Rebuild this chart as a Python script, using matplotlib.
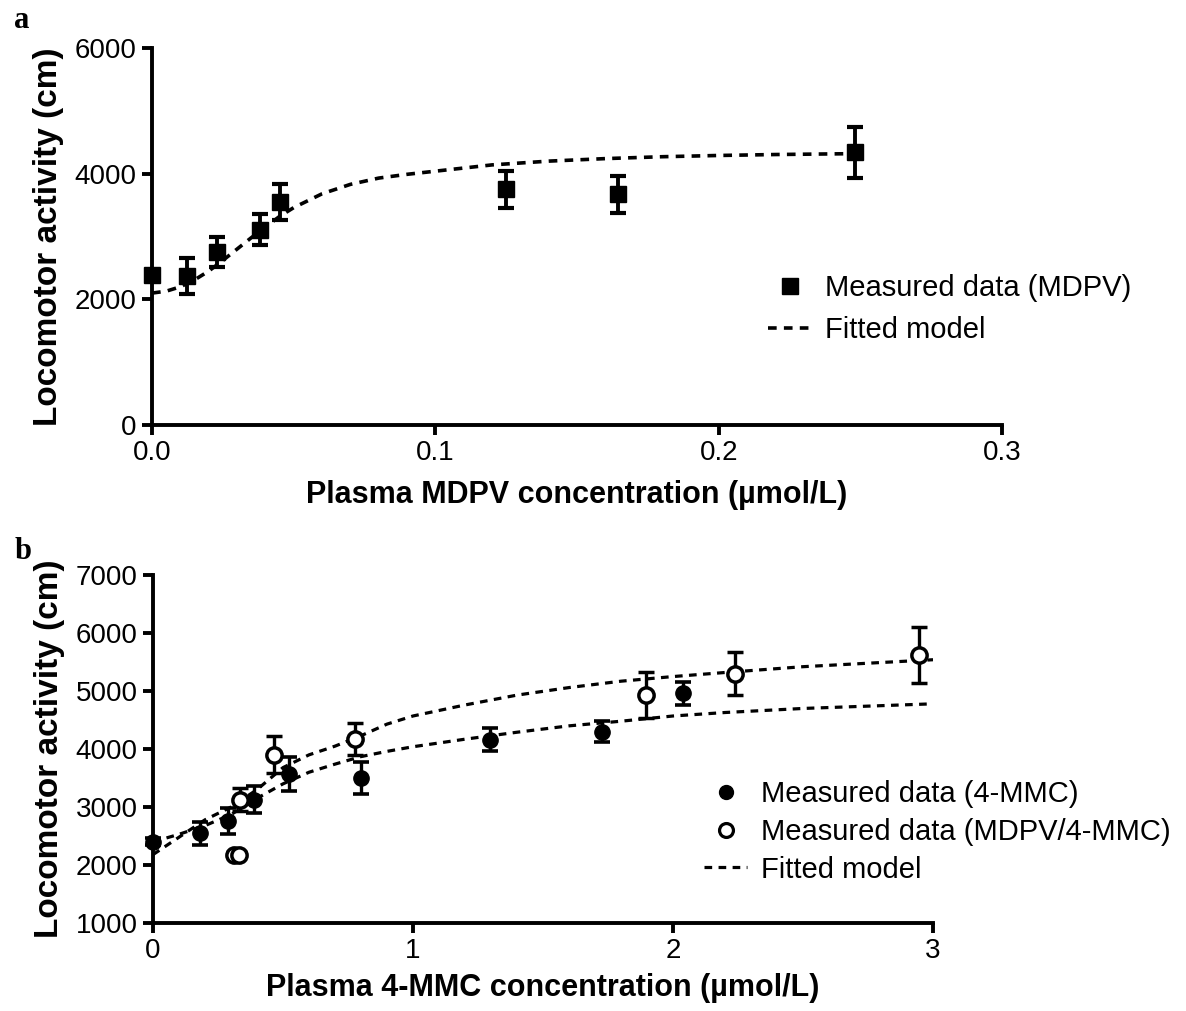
"""Locomotor activity vs plasma concentration, two stacked panels."""

import matplotlib
matplotlib.use("Agg")
import matplotlib.pyplot as plt
from matplotlib.lines import Line2D

plt.rcParams['font.family'] = ['Liberation Sans', 'DejaVu Sans']

# panel a: MDPV
mdpv_conc = [0.0, 0.0124, 0.023, 0.038, 0.045, 0.125, 0.1645, 0.248]
mdpv_act = [2390, 2370, 2750, 3110, 3550, 3750, 3670, 4340]
mdpv_err = [80, 290, 240, 250, 290, 300, 290, 410]

mdpv_fit_x = [0, 0.005, 0.01, 0.015, 0.02, 0.025, 0.03, 0.035, 0.04, 0.045,
              0.05, 0.06, 0.07, 0.08, 0.09, 0.10, 0.12, 0.14, 0.16, 0.18,
              0.20, 0.22, 0.25]
mdpv_fit_y = [2100, 2130, 2200, 2310, 2450, 2620, 2800, 2980, 3150, 3320,
              3460, 3680, 3830, 3930, 3990, 4040, 4140, 4200, 4240, 4270,
              4290, 4305, 4320]

# panel b: 4-MMC alone (filled) and MDPV/4-MMC (open)
mmc_conc = [0.0, 0.18, 0.29, 0.39, 0.525, 0.80, 1.296, 1.727, 2.04]
mmc_act = [2400, 2550, 2760, 3130, 3570, 3500, 4160, 4300, 4960]
mmc_err = [60, 200, 220, 230, 300, 270, 200, 180, 200]

mix_conc = [0.31, 0.33, 0.335, 0.465, 0.775, 1.896, 2.24, 2.946]
mix_act = [2180, 2180, 3130, 3900, 4170, 4930, 5300, 5620]
mix_err = [40, 40, 200, 320, 280, 390, 370, 480]

fit_b_x = [0, 0.1, 0.2, 0.3, 0.4, 0.5, 0.6, 0.7, 0.8, 0.9, 1.0, 1.2, 1.4,
           1.6, 1.8, 2.0, 2.2, 2.5, 2.75, 3.0]
mmc_fit_y = [2400, 2530, 2680, 2870, 3150, 3400, 3600, 3740, 3870, 3960,
             4040, 4170, 4290, 4400, 4480, 4570, 4630, 4700, 4740, 4780]
mix_fit_y = [2180, 2480, 2780, 3000, 3300, 3680, 3900, 4050, 4230, 4430,
             4570, 4760, 4930, 5060, 5170, 5250, 5320, 5420, 5480, 5540]

TICK_FS = 20
XLABEL_FS = 22
YLABEL_FS = 24
LEG_FS = 21
DASH = (0, (2.4, 2.0))


def style_axes(ax):
    """Prism-like axes: left and bottom spines only, thick outward ticks."""
    for side in ['top', 'right']:
        ax.spines[side].set_visible(False)
    for side in ['left', 'bottom']:
        ax.spines[side].set_linewidth(2.8)
    ax.tick_params(direction='out', length=7, width=2.8,
                   labelsize=TICK_FS, pad=4)


fig = plt.figure(figsize=(11.86, 10.11), dpi=100)

# ---- panel a ----
ax1 = fig.add_axes([0.1282, 0.5796, 0.7167, 0.3729])
ax1.plot(mdpv_fit_x, mdpv_fit_y, linestyle=DASH, color='black',
         linewidth=2.6)
ax1.errorbar(mdpv_conc, mdpv_act, yerr=mdpv_err, fmt='s', color='black',
             markersize=12, elinewidth=2.8, capsize=6, capthick=3,
             zorder=3, clip_on=False)
ax1.set_xlim(0, 0.3)
ax1.set_ylim(0, 6000)
ax1.set_xticks([0.0, 0.1, 0.2, 0.3])
ax1.set_xticklabels(['0.0', '0.1', '0.2', '0.3'])
ax1.set_yticks([0, 2000, 4000, 6000])
style_axes(ax1)
ax1.set_xlabel('Plasma MDPV concentration (µmol/L)', fontsize=XLABEL_FS,
               fontweight='bold', labelpad=10)
ax1.set_ylabel('Locomotor activity (cm)', fontsize=YLABEL_FS,
               fontweight='bold', labelpad=8)

handles_a = [
    Line2D([], [], marker='s', linestyle='none', color='black',
           markersize=11),
    Line2D([], [], linestyle=DASH, color='black', linewidth=2.6),
]
ax1.legend(handles_a, ['Measured data (MDPV)', 'Fitted model'],
           loc='upper left', bbox_to_anchor=(0.725, 0.40), frameon=False,
           fontsize=LEG_FS, handlelength=1.5, handletextpad=0.45,
           borderaxespad=0, borderpad=0, labelspacing=0.48)

# ---- panel b ----
ax2 = fig.add_axes([0.129, 0.0870, 0.6577, 0.3442])
ax2.plot(fit_b_x, mmc_fit_y, linestyle=DASH, color='black', linewidth=2.3)
ax2.plot(fit_b_x, mix_fit_y, linestyle=DASH, color='black', linewidth=2.3)
ax2.errorbar(mmc_conc, mmc_act, yerr=mmc_err, fmt='o', color='black',
             markersize=11, elinewidth=2.4, capsize=6, capthick=2.6,
             zorder=3, clip_on=False)
ax2.errorbar(mix_conc, mix_act, yerr=mix_err, fmt='o', color='black',
             markerfacecolor='white', markeredgewidth=2.5, markersize=11,
             elinewidth=2.4, capsize=6, capthick=2.6, zorder=4)
ax2.set_xlim(0, 3)
ax2.set_ylim(1000, 7000)
ax2.set_xticks([0, 1, 2, 3])
ax2.set_yticks([1000, 2000, 3000, 4000, 5000, 6000, 7000])
style_axes(ax2)
ax2.set_xlabel('Plasma 4-MMC concentration (µmol/L)', fontsize=XLABEL_FS,
               fontweight='bold', labelpad=6)
ax2.set_ylabel('Locomotor activity (cm)', fontsize=YLABEL_FS,
               fontweight='bold', labelpad=8)

handles_b = [
    Line2D([], [], marker='o', linestyle='none', color='black',
           markersize=10),
    Line2D([], [], marker='o', linestyle='none', color='black',
           markerfacecolor='white', markeredgewidth=2.3, markersize=10),
    Line2D([], [], linestyle=DASH, color='black', linewidth=2.3),
]
ax2.legend(handles_b, ['Measured data (4-MMC)', 'Measured data (MDPV/4-MMC)',
                       'Fitted model'],
           loc='upper left', bbox_to_anchor=(0.706, 0.41), frameon=False,
           fontsize=LEG_FS, handlelength=1.5, handletextpad=0.45,
           borderaxespad=0, borderpad=0, labelspacing=0.33)

# panel letters
fig.text(0.012, 0.972, 'a', fontsize=22, fontweight='bold',
         family=['Liberation Serif', 'DejaVu Serif'])
fig.text(0.012, 0.447, 'b', fontsize=22, fontweight='bold',
         family=['Liberation Serif', 'DejaVu Serif'])

fig.savefig('out.png', dpi=100)
